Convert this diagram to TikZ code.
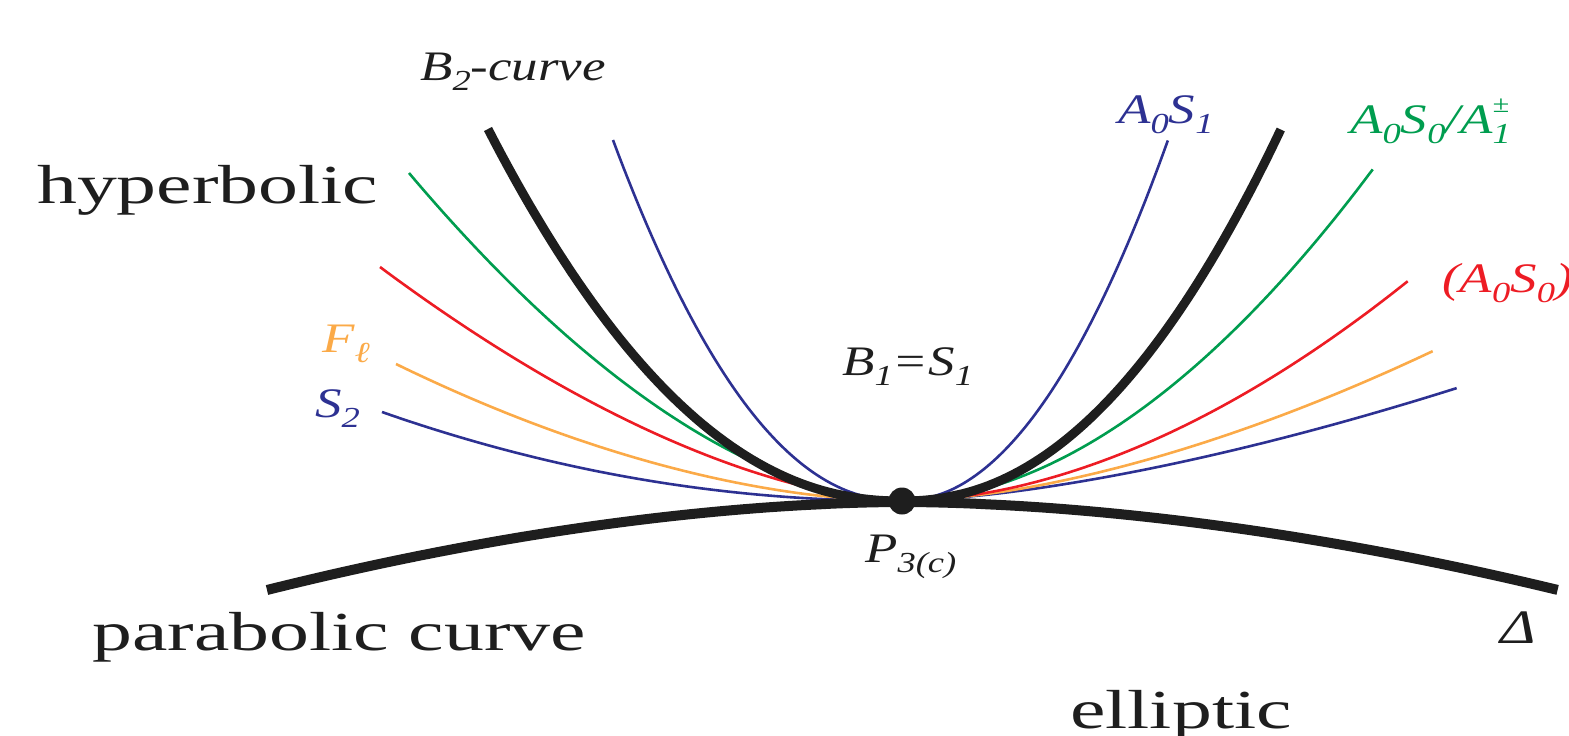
\documentclass[tikz,border=0pt]{standalone}
\usepackage{fontspec}
\setmainfont{Liberation Serif}
\newfontfamily\romanw{Liberation Serif}[FakeStretch=1.45]
\newfontfamily\italw{Liberation Serif}[FakeStretch=1.26]
\definecolor{myblue}{RGB}{45,49,146}
\definecolor{mygreen}{RGB}{0,157,79}
\definecolor{myred}{RGB}{237,28,36}
\definecolor{myorange}{RGB}{251,170,72}
\definecolor{myblack}{RGB}{30,30,30}
\newcommand\lsb[1]{\raisebox{-0.24em}{\fontsize{29}{30}\selectfont #1}}
\newcommand\lsp[1]{\raisebox{0.5em}{\fontsize{24}{26}\selectfont #1}}
\tikzset{
  thin curve/.style={line width=2.6pt},
  thick curve/.style={line width=9.5pt, color=myblack},
  romanlabel/.style={anchor=base west, inner sep=0pt, font=\romanw\fontsize{55}{60}\selectfont, text=myblack},
  itlabel/.style={anchor=base west, inner sep=0pt, font=\italw\itshape\fontsize{42}{46}\selectfont, text=myblack},
}
% two-sided power curve through P=(902,501)
% #1 left dx, #2 left dy, #3 left power, #4 right dx, #5 right dy, #6 right power
\newcommand\cuspcurve[7][]{%
  \draw[#1] plot[domain=1:0.01, samples=60] ({902-#2*\x},{501-#3*pow(\x,#4)})
    -- plot[domain=0.01:1, samples=60] ({902+#5*\x},{501-#6*pow(\x,#7)});}
\begin{document}
\begin{tikzpicture}[x=1pt,y=-1pt]
\useasboundingbox (0,0) rectangle (1569,736);
% blue S2
\cuspcurve[thin curve, myblue]{520}{89}{2.05}{555}{113}{1.55}
% orange F_l
\cuspcurve[thin curve, myorange]{506}{137}{1.8}{531}{150}{1.67}
% red (A0S0)2
\cuspcurve[thin curve, myred]{522}{234}{1.66}{506}{220}{1.84}
% green A0S0/A1
\cuspcurve[thin curve, mygreen]{493}{328}{1.78}{471}{332}{1.9}
% blue A0S1
\cuspcurve[thin curve, myblue]{289}{361}{2.15}{266}{361}{2.06}
% black B2-curve
\cuspcurve[thick curve, line width=9pt]{414}{372}{2.16}{379}{372}{2.15}
% parabolic curve
\draw[thick curve, line width=10pt] plot[domain=1:0.01, samples=60] ({902-635*\x},{502+88*pow(\x,1.8)})
    -- plot[domain=0.01:1, samples=60] ({902+656*\x},{502+88*pow(\x,1.8)});
% point
\node[circle, fill=myblack, minimum size=27pt, inner sep=0pt] (P) at (902,501) {};
% labels
\node[romanlabel] (hyp) at (37,203) {hyperbolic};
\node[romanlabel] (par) at (92,650) {parabolic curve};
\node[romanlabel] (ell) at (1070,728) {elliptic};
\node[itlabel] (b2) at (420,80) {B\lsb{2}-curve};
\node[itlabel, text=myblue] (a0s1) at (1118,123) {A\lsb{0}S\lsb{1}};
\node[itlabel, text=mygreen] (a0s0) at (1350,133) {A\lsb{0}S\lsb{0}/A\rlap{\lsp{±}}\lsb{1}};
\node[itlabel, text=myred] (a0s02) at (1442,292) {(A\lsb{0}S\lsb{0})\lsb{2}};
\node[itlabel, text=myorange] (fl) at (322,352) {F\lsb{ℓ}};
\node[itlabel, text=myblue] (s2) at (315,417) {S\lsb{2}};
\node[itlabel] (b1s1) at (842,375) {B\lsb{1}=S\lsb{1}};
\node[itlabel] (p3) at (865,562) {P\lsb{3(c)}};
\node[itlabel, font=\italw\itshape\fontsize{48}{52}\selectfont] (delta) at (1500,643) {Δ};
\end{tikzpicture}
\end{document}
